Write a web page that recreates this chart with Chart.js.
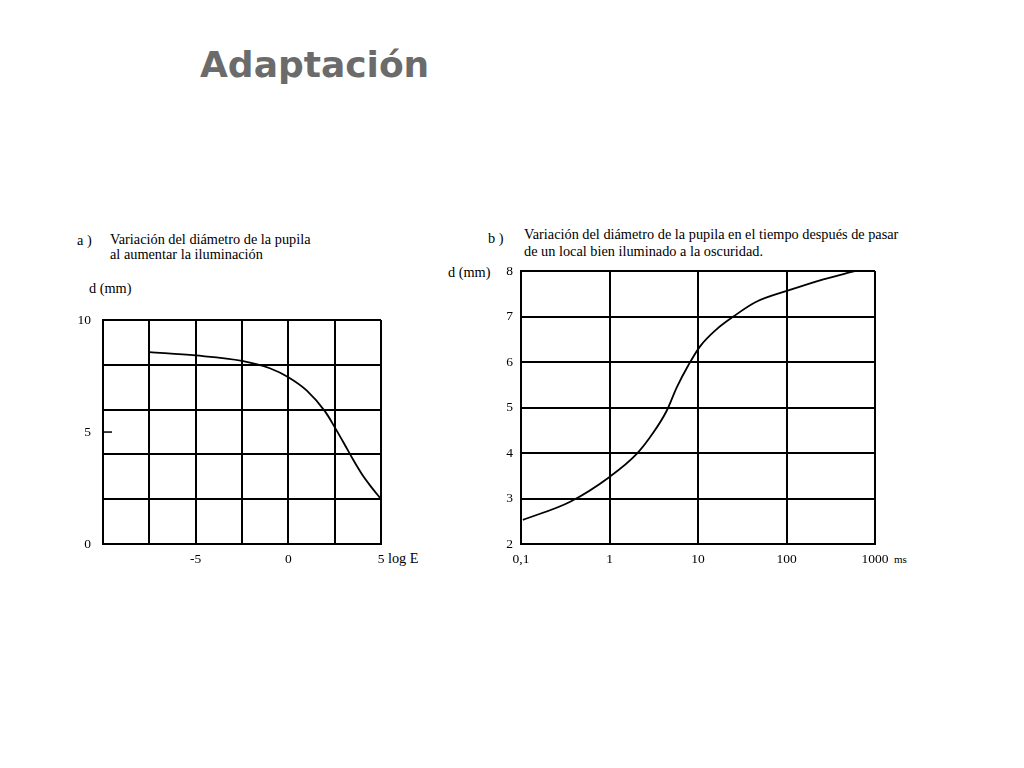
<!DOCTYPE html>
<html>
<head>
<meta charset="utf-8">
<script src="https://cdn.jsdelivr.net/npm/chart.js@4"></script>
<style>
  body { margin: 0; background: #fff; width: 1024px; height: 768px; position: relative; overflow: hidden; }
  .t { position: absolute; font-family: "Liberation Serif", "DejaVu Serif", serif; font-size: 14.3px; color: #000; line-height: 15px; white-space: nowrap; }
  #title { position: absolute; left: 200px; top: 47px; font-family: "DejaVu Sans", sans-serif; font-weight: bold; font-size: 36px; line-height: 36px; color: #6b6b6b; }
  canvas { position: absolute; }
</style>
</head>
<body>
<div id="title">Adaptación</div>

<div class="t" style="left:77px;top:233px;">a )</div>
<div class="t" style="left:110px;top:232px;">Variación del diámetro de la pupila</div>
<div class="t" style="left:110px;top:247px;">al aumentar la iluminación</div>
<div class="t" style="left:89px;top:281px;">d (mm)</div>
<div class="t" style="left:388px;top:551px;">log E</div>

<div class="t" style="left:488px;top:231px;">b )</div>
<div class="t" style="left:524px;top:227px;">Variación del diámetro de la pupila en el tiempo después de pasar</div>
<div class="t" style="left:524px;top:244px;">de un local bien iluminado a la oscuridad.</div>
<div class="t" style="left:448px;top:265px;">d (mm)</div>
<div class="t" style="left:894px;top:552px;font-size:11px;">ms</div>

<canvas id="chartA" width="340" height="280" style="left:60px;top:300px;"></canvas>
<canvas id="chartB" width="470" height="325" style="left:440px;top:255px;"></canvas>

<script>
// a) pupil diameter vs log E
const logE = [-7.5, -5, -2.5, -1, 0, 1, 2, 2.5, 3, 3.5, 4, 4.5, 4.95];
const diamA = [8.57, 8.42, 8.18, 7.85, 7.45, 6.85, 5.9, 5.22, 4.5, 3.76, 3.08, 2.52, 2.06];
const xTicksA = [-10, -7.5, -5, -2.5, 0, 2.5, 5];
const xLabelsA = [-5, 0, 5];
const yTicksA = [0, 2, 4, 5, 6, 8, 10];
const yLabelsA = [0, 5, 10];

// b) pupil diameter vs time (ms)
const timeMs = [0.105, 0.36, 1.01, 2.03, 3.13, 4.43, 5.74, 7.78, 10.5, 16.2, 25.1, 45, 107, 261, 590];
const diamB = [2.53, 2.93, 3.48, 3.98, 4.45, 4.93, 5.44, 5.93, 6.34, 6.72, 7.0, 7.32, 7.58, 7.82, 8.0];
const xTicksB = [0.1, 1, 10, 100, 1000];
const yTicksB = [2, 3, 4, 5, 6, 7, 8];

const tickFont = { family: "'Liberation Serif', serif", size: 13.5 };

// small tick mark at d = 5 inside the left border
const midTick = {
  id: "midTick",
  afterDraw(chart) {
    const c = chart.ctx, y = chart.scales.y.getPixelForValue(5), l = chart.chartArea.left;
    c.save();
    c.strokeStyle = "#000";
    c.lineWidth = 1.5;
    c.beginPath();
    c.moveTo(l, y);
    c.lineTo(l + 9, y);
    c.stroke();
    c.restore();
  }
};

new Chart(document.getElementById("chartA").getContext("2d"), {
  type: "line",
  data: {
    datasets: [{
      data: logE.map((x, i) => ({ x: x, y: diamA[i] })),
      borderColor: "#000",
      borderWidth: 1.8,
      pointRadius: 0,
      cubicInterpolationMode: "monotone",
      clip: false
    }]
  },
  options: {
    responsive: false,
    animation: false,
    layout: { padding: { top: 11, right: 19, left: 0, bottom: 0 } },
    plugins: { legend: { display: false }, tooltip: { enabled: false } },
    scales: {
      x: {
        type: "linear",
        min: -10,
        max: 5,
        afterBuildTicks: (s) => { s.ticks = xTicksA.map(v => ({ value: v })); },
        afterFit: (s) => { s.height = 36; },
        ticks: {
          color: "#000",
          font: tickFont,
          padding: 7,
          maxRotation: 0,
          autoSkip: false,
          callback: (v) => xLabelsA.includes(v) ? String(v) : ""
        },
        grid: { color: "#000", lineWidth: 2, drawTicks: false },
        border: { color: "#000", width: 2 }
      },
      y: {
        min: 0,
        max: 10,
        afterBuildTicks: (s) => { s.ticks = yTicksA.map(v => ({ value: v })); },
        afterFit: (s) => { s.width = 43; },
        ticks: {
          color: "#000",
          font: tickFont,
          padding: 12,
          autoSkip: false,
          callback: (v) => yLabelsA.includes(v) ? String(v) : ""
        },
        grid: {
          color: (ctx) => ctx.tick && ctx.tick.value === 5 ? "rgba(0,0,0,0)" : "#000",
          lineWidth: 2,
          drawTicks: false
        },
        border: { color: "#000", width: 2 }
      }
    }
  },
  plugins: [midTick]
});

new Chart(document.getElementById("chartB").getContext("2d"), {
  type: "line",
  data: {
    datasets: [{
      data: timeMs.map((x, i) => ({ x: x, y: diamB[i] })),
      borderColor: "#000",
      borderWidth: 1.8,
      pointRadius: 0,
      cubicInterpolationMode: "monotone",
      clip: false
    }]
  },
  options: {
    responsive: false,
    animation: false,
    layout: { padding: { top: 16, right: 35, left: 0, bottom: 0 } },
    plugins: { legend: { display: false }, tooltip: { enabled: false } },
    scales: {
      x: {
        type: "logarithmic",
        min: 0.1,
        max: 1000,
        afterBuildTicks: (s) => { s.ticks = xTicksB.map(v => ({ value: v })); },
        afterFit: (s) => { s.height = 36; },
        ticks: {
          color: "#000",
          font: tickFont,
          padding: 7,
          maxRotation: 0,
          autoSkip: false,
          callback: (v) => v === 0.1 ? "0,1" : String(v)
        },
        grid: { color: "#000", lineWidth: 2, drawTicks: false },
        border: { color: "#000", width: 2 }
      },
      y: {
        min: 2,
        max: 8,
        afterBuildTicks: (s) => { s.ticks = yTicksB.map(v => ({ value: v })); },
        afterFit: (s) => { s.width = 81; },
        ticks: { color: "#000", font: tickFont, padding: 8, autoSkip: false },
        grid: { color: "#000", lineWidth: 2, drawTicks: false },
        border: { color: "#000", width: 2 }
      }
    }
  }
});
</script>
</body>
</html>
